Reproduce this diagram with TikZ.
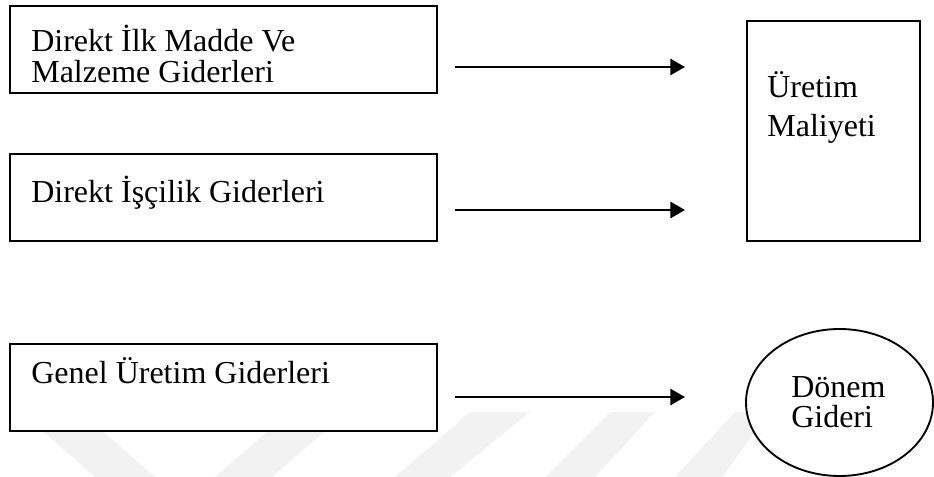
\documentclass[tikz,border=0pt]{standalone}
\usepackage{fontspec}
\setmainfont{Liberation Serif}
\usetikzlibrary{calc,positioning,arrows.meta,shapes.geometric}
\tikzset{
  costbox/.style={draw,line width=1.4pt,fill=white,inner sep=0pt},
  costlabel/.style={inner sep=0pt,anchor=base west,align=left,font=\fontsize{24}{23.25}\selectfont},
  flow/.style={line width=2.2pt,-{Triangle[length=11pt,width=12pt]}},
  mark stripe/.style={fill=black!5,draw=none}
}
\begin{document}
\begin{tikzpicture}[x=0.75pt,y=-0.75pt]
\useasboundingbox (0,0) rectangle (934,477);

% faint stripes along the lower edge
\fill[mark stripe] (30,420) -- (90,420) -- (155,477) -- (95,477) -- cycle;
\fill[mark stripe] (290,412) -- (347,412) -- (272,477) -- (215,477) -- cycle;
\fill[mark stripe] (470,412) -- (530,412) -- (450,477) -- (395,477) -- cycle;
\fill[mark stripe] (610,412) -- (655,412) -- (595,477) -- (545,477) -- cycle;
\fill[mark stripe] (735,412) -- (770,412) -- (722,477) -- (675,477) -- cycle;

\node[costbox,minimum width=320.25pt,minimum height=65.25pt] (material) at (223.5,49.5) {};
\node[costbox,minimum width=320.25pt,minimum height=65.25pt] (labour) at (223.5,197.5) {};
\node[costbox,minimum width=320.25pt,minimum height=65.25pt] (overhead) at (223.5,387.5) {};
\node[costbox,minimum width=129.75pt,minimum height=165pt] (production) at (833.5,131) {};
\node[costbox,ellipse,minimum width=140.25pt,minimum height=110.25pt] (period) at (839.5,402.5) {};

% base anchor sits on the last line
\node[costlabel] (materialtxt) at ($(material.north west)+(22,77)$) {Direkt İlk Madde Ve\\Malzeme Giderleri};
\node[costlabel] (labourtxt) at ($(labour.north west)+(22,49)$) {Direkt İşçilik Giderleri};
\node[costlabel] (overheadtxt) at ($(overhead.north west)+(22,40)$) {Genel Üretim Giderleri};
\node[costlabel,font=\fontsize{24}{29.25}\selectfont] (productiontxt) at ($(production.north west)+(21,116)$) {Üretim\\Maliyeti};
\node[costlabel,font=\fontsize{24}{22.5}\selectfont] (periodtxt) at (791,427) {Dönem\\Gideri};

\coordinate (m1) at (455,67);  \coordinate (m2) at (685,67);
\coordinate (l1) at (455,210); \coordinate (l2) at (685,210);
\coordinate (o1) at (455,397); \coordinate (o2) at (685,397);
\draw[flow] (m1) -- (m2);
\draw[flow] (l1) -- (l2);
\draw[flow] (o1) -- (o2);
\end{tikzpicture}
\end{document}
